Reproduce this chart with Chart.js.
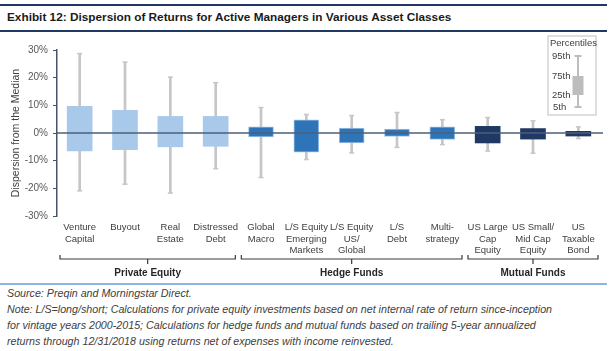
<!DOCTYPE html>
<html>
<head>
<meta charset="utf-8">
<script src="https://cdn.jsdelivr.net/npm/chart.js@4.4.1/dist/chart.umd.min.js"></script>
<style>
  body { margin: 0; background: #fff; width: 614px; height: 351px; overflow: hidden; position: relative; font-family: "Liberation Sans", Arial, sans-serif; }
  .rule { position: absolute; left: 0; width: 607px; }
  #title { position: absolute; left: 7px; top: 10px; font-weight: bold; font-size: 11.8px; color: #1a1a1a; white-space: nowrap; }
  #wrap { position: absolute; left: 0; top: 31px; width: 614px; height: 252px; }
  #notes { position: absolute; left: 7px; top: 285px; font-style: italic; font-size: 10.7px; line-height: 16px; color: #404040; white-space: nowrap; }
</style>
</head>
<body>
<div class="rule" style="top:4px;height:2px;background:#1f3864"></div>
<div id="title">Exhibit 12: Dispersion of Returns for Active Managers in Various Asset Classes</div>
<div class="rule" style="top:30px;height:1.5px;background:#1f3864"></div>
<div id="wrap"><canvas id="chart"></canvas></div>
<div class="rule" style="top:283px;height:1.5px;background:#8eb4e3"></div>
<div id="notes">Source: Preqin and Morningstar Direct.<br>Note: L/S=long/short; Calculations for private equity investments based on net internal rate of return since-inception<br>for vintage years 2000-2015; Calculations for hedge funds and mutual funds based on trailing 5-year annualized<br>returns through 12/31/2018 using returns net of expenses with income reinvested.</div>
<script>
// categories (multi-line tick labels)
const categories = [
  ['Venture', 'Capital'], ['Buyout'], ['Real', 'Estate'], ['Distressed', 'Debt'],
  ['Global', 'Macro'], ['L/S Equity', 'Emerging', 'Markets'], ['L/S Equity', 'US/', 'Global'],
  ['L/S', 'Debt'], ['Multi-', 'strategy'],
  ['US Large', 'Cap', 'Equity'], ['US Small/', 'Mid Cap', 'Equity'], ['US', 'Taxable', 'Bond']
];
// percentiles, dispersion from the median (%)
const p5  = [-20.9, -18.5, -21.7, -12.9, -16.1, -9.6, -7.2, -5.2, -4.2, -6.5, -7.3, -2.0];
const p25 = [-6.5, -6.0, -5.0, -4.8, -1.4, -6.9, -3.6, -1.2, -2.3, -3.6, -2.2, -1.1];
const p75 = [9.6, 8.2, 6.0, 6.0, 2.2, 4.8, 1.8, 1.4, 2.2, 2.4, 1.6, 0.6];
const p95 = [28.7, 25.6, 20.2, 18.2, 9.2, 6.7, 6.3, 7.4, 4.8, 5.6, 4.4, 2.2];
// asset class groups
const groupNames = ['Private Equity', 'Hedge Funds', 'Mutual Funds'];
const groupOf = [0, 0, 0, 0, 1, 1, 1, 1, 1, 2, 2, 2];
const yTicks = [-30, -20, -10, 0, 10, 20, 30];

const groupFill = ['#a9c9eb', '#2e74b8', '#1f3864'];
const groupBorder = ['#a9c9eb', '#9dc3e6', '#1f3864'];
const whiskerColor = '#c6c6c6';
const axisColor = '#44546a';
const txt = '#404040';
const FONT = '"Liberation Sans", Arial, sans-serif';

const zeroLine = {
  id: 'zeroLine',
  afterDatasetsDraw(chart) {
    const { ctx, chartArea, scales } = chart;
    const y = scales.y.getPixelForValue(0);
    ctx.save();
    ctx.strokeStyle = '#4d5f7a';
    ctx.lineWidth = 1.5;
    ctx.beginPath();
    ctx.moveTo(chartArea.left, y);
    ctx.lineTo(chartArea.right + 2, y);
    ctx.stroke();
    ctx.restore();
  }
};

const brackets = {
  id: 'brackets',
  afterDraw(chart) {
    const { ctx, chartArea, scales } = chart;
    const x = scales.x;
    const half = (x.getPixelForValue(1) - x.getPixelForValue(0)) / 2;
    const yb = chartArea.bottom + 43;
    ctx.save();
    ctx.strokeStyle = '#3a3a3a';
    ctx.lineWidth = 1.2;
    ctx.fillStyle = '#262626';
    ctx.font = 'bold 10px ' + FONT;
    ctx.textAlign = 'center';
    ctx.textBaseline = 'middle';
    groupNames.forEach((name, g) => {
      const idx = groupOf.map((v, i) => v === g ? i : -1).filter(i => i >= 0);
      const l = x.getPixelForValue(idx[0]) - half + 3;
      const r = x.getPixelForValue(idx[idx.length - 1]) + half - 3;
      const c = (l + r) / 2;
      ctx.beginPath();
      ctx.moveTo(l, yb - 4); ctx.lineTo(l, yb); ctx.lineTo(r, yb); ctx.lineTo(r, yb - 4);
      ctx.moveTo(c, yb); ctx.lineTo(c, yb + 5);
      ctx.stroke();
      ctx.fillText(name, c, chartArea.bottom + 57);
    });
    ctx.restore();
  }
};

const percentileKey = {
  id: 'percentileKey',
  afterDraw(chart) {
    const { ctx, chartArea } = chart;
    const left = chartArea.right - 53, top = chartArea.top - 14, w = 48, h = 79;
    ctx.save();
    ctx.strokeStyle = '#d3d3d3';
    ctx.lineWidth = 1.5;
    ctx.strokeRect(left, top, w, h);
    ctx.fillStyle = txt;
    ctx.font = '9.5px ' + FONT;
    ctx.textBaseline = 'middle';
    ctx.textAlign = 'left';
    ctx.fillText('Percentiles', left + 2, top + 7);
    ctx.fillText('95th', left + 4, top + 20);
    ctx.fillText('75th', left + 4, top + 40);
    ctx.fillText('25th', left + 4, top + 59);
    ctx.fillText('5th', left + 5, top + 71);
    const cx = left + 30;
    ctx.strokeStyle = '#bdbdbd';
    ctx.lineWidth = 2;
    ctx.beginPath();
    ctx.moveTo(cx, top + 20); ctx.lineTo(cx, top + 71);
    ctx.moveTo(cx - 3.5, top + 20); ctx.lineTo(cx + 3.5, top + 20);
    ctx.moveTo(cx - 3.5, top + 71); ctx.lineTo(cx + 3.5, top + 71);
    ctx.stroke();
    ctx.fillStyle = '#bdbdbd';
    ctx.fillRect(cx - 5.5, top + 40, 11, 19);
    ctx.restore();
  }
};

const capStyle = {
  type: 'line', showLine: false, pointStyle: 'line', pointRadius: 2.5, pointHoverRadius: 2.5,
  pointBorderColor: whiskerColor, pointBorderWidth: 1.5, order: 2
};

new Chart(document.getElementById('chart'), {
  type: 'bar',
  data: {
    labels: categories,
    datasets: [
      {
        label: '5th-95th',
        data: categories.map((_, i) => [p5[i], p95[i]]),
        backgroundColor: whiskerColor,
        barThickness: 2,
        grouped: false,
        order: 3
      },
      { ...capStyle, label: '95th', data: p95 },
      { ...capStyle, label: '5th', data: p5 },
      {
        label: '25th-75th',
        data: categories.map((_, i) => [p25[i], p75[i]]),
        backgroundColor: groupOf.map(g => groupFill[g]),
        borderColor: groupOf.map(g => groupBorder[g]),
        borderWidth: groupOf.map(g => g === 1 ? 1 : 0),
        borderSkipped: false,
        barThickness: 25,
        grouped: false,
        order: 1
      }
    ]
  },
  options: {
    responsive: true,
    maintainAspectRatio: false,
    animation: false,
    events: [],
    layout: { padding: { top: 19, right: 13, left: 0, bottom: 0 } },
    plugins: { legend: { display: false }, tooltip: { enabled: false } },
    scales: {
      x: {
        offset: true,
        grid: { display: false, drawTicks: false },
        border: { display: false },
        ticks: {
          autoSkip: false, maxRotation: 0, padding: 6, color: txt,
          font: { family: FONT, size: 9.5, lineHeight: 1.2 }
        },
        afterFit(scale) { scale.height = 67; }
      },
      y: {
        min: -30, max: 30,
        afterBuildTicks(scale) { scale.ticks = yTicks.map(v => ({ value: v })); },
        grid: { drawOnChartArea: false, drawTicks: true, tickLength: 4, color: axisColor },
        border: { display: true, color: axisColor, width: 1.5 },
        ticks: {
          padding: 5, color: '#595959',
          font: { family: FONT, size: 10 },
          callback: v => v + '%'
        },
        title: {
          display: true, text: 'Dispersion from the Median', color: txt,
          font: { family: FONT, size: 10.5 }, padding: { top: 10, bottom: 0 }
        },
        afterFit(scale) { scale.width = 57; }
      }
    }
  },
  plugins: [zeroLine, brackets, percentileKey]
});
</script>
</body>
</html>
